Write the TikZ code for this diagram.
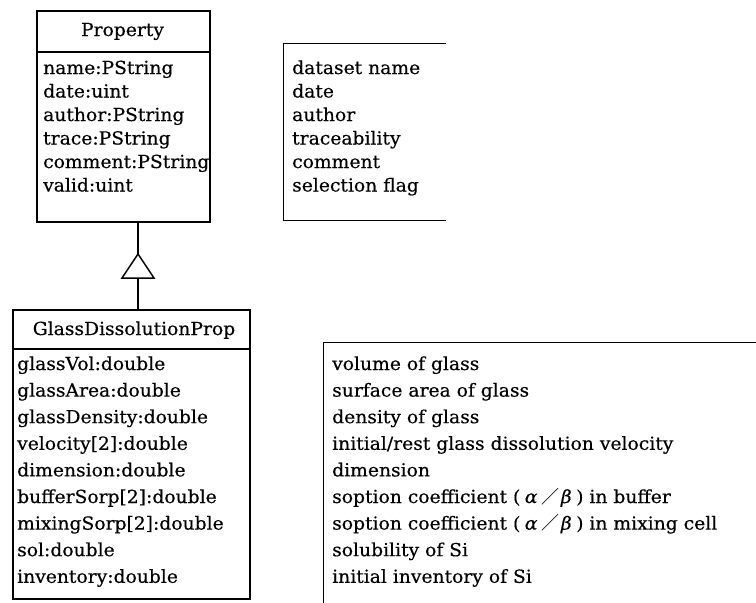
\documentclass[tikz,border=0pt]{standalone}
\usepackage{fontspec}
\setmainfont[FakeStretch=1.04,FakeBold=0.4]{DejaVu Serif}
\newfontfamily\cjk{Noto Sans CJK JP}
\newcommand\ratioab{(\hspace{0.25em}\textit{α}\hspace{0.2em}{\cjk ／}\hspace{0.1em}\textit{β}\hspace{0.25em})}
\begin{document}
\begin{tikzpicture}[x=1pt,y=-1pt,
  classbox/.style={draw, line width=1.5pt, anchor=north west, inner sep=0pt},
  txt/.style={anchor=base west, inner sep=0pt, font=\fontsize{18}{20}\selectfont},
  title/.style={anchor=base, inner sep=0pt, font=\fontsize{18}{20}\selectfont},
  descline/.style={line width=1pt}]
\useasboundingbox (0,0) rectangle (756,603);

% class Property
\node[classbox, minimum width=173pt, minimum height=211pt] (prop) at (36,10) {};
\draw[line width=1.5pt] (36,52) -- (209,52);
\node[title] (propT) at (122.5,36) {Property};
\node[txt] (p1) at (43,74)  {name:PString};
\node[txt] (p2) at (43,97.5) {date:uint};
\node[txt] (p3) at (43,121) {author:PString};
\node[txt] (p4) at (43,144.5) {trace:PString};
\node[txt] (p5) at (43,168) {comment:PString};
\node[txt] (p6) at (43,191.5) {valid:uint};

% descriptions of Property
\draw[descline] (446,43) -- (283,43) -- (283,220) -- (446,220);
\node[txt] (d1) at (292,74)  {dataset name};
\node[txt] (d2) at (292,97.5) {date};
\node[txt] (d3) at (292,121) {author};
\node[txt] (d4) at (292,144.5) {traceability};
\node[txt] (d5) at (292,168) {comment};
\node[txt] (d6) at (292,191.5) {selection flag};

% class GlassDissolutionProp
\node[classbox, minimum width=237pt, minimum height=289pt] (glass) at (12,309) {};
\draw[line width=1.5pt] (12,349) -- (249,349);
\node[title] (glassT) at (134,335) {GlassDissolutionProp};
\node[txt] (g1) at (17,370)   {glassVol:double};
\node[txt] (g2) at (17,396.6) {glassArea:double};
\node[txt] (g3) at (17,423.2) {glassDensity:double};
\node[txt] (g4) at (17,449.8) {velocity[2]:double};
\node[txt] (g5) at (17,476.4) {dimension:double};
\node[txt] (g6) at (17,503)   {bufferSorp[2]:double};
\node[txt] (g7) at (17,529.6) {mixingSorp[2]:double};
\node[txt] (g8) at (17,556.2) {sol:double};
\node[txt] (g9) at (17,582.8) {inventory:double};

% descriptions of GlassDissolutionProp
\draw[descline] (756,342) -- (323,342) -- (323,603);
\node[txt] (e1) at (332,370)   {volume of glass};
\node[txt] (e2) at (332,396.6) {surface area of glass};
\node[txt] (e3) at (332,423.2) {density of glass};
\node[txt] (e4) at (332,449.8) {initial/rest glass dissolution velocity};
\node[txt] (e5) at (332,476.4) {dimension};
\node[txt] (e6) at (332,503)   {soption coefficient \ratioab{} in buffer};
\node[txt] (e7) at (332,529.6) {soption coefficient \ratioab{} in mixing cell};
\node[txt] (e8) at (332,556.2) {solubility of Si};
\node[txt] (e9) at (332,582.8) {initial inventory of Si};

% generalization arrow
\coordinate (apex) at (138,254);
\coordinate (base) at (138,278);
\draw[line width=1.5pt] (apex |- prop.south) -- (apex);
\draw[line width=1.5pt, line join=miter] (apex) -- ++(-16,24) -- ++(32,0) -- cycle;
\draw[line width=1.5pt] (base) -- (base |- glass.north);
\end{tikzpicture}
\end{document}
